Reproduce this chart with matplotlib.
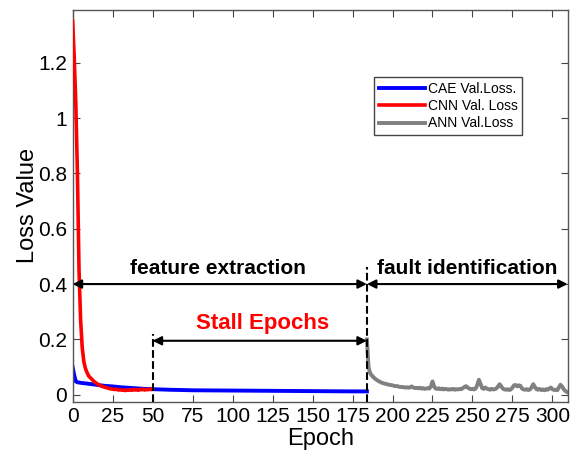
import matplotlib
matplotlib.use("Agg")
import matplotlib.pyplot as plt

plt.rcParams['font.family'] = ['Liberation Sans', 'DejaVu Sans']

# ---- data ----
cae_epochs = [0, 1, 2, 3, 5, 8, 12, 16, 20, 25, 30, 35, 40, 45, 50, 60, 75, 100, 125, 150, 175, 184]
cae_loss = [0.10, 0.07, 0.048, 0.045, 0.043, 0.041, 0.038, 0.035, 0.032, 0.030, 0.027, 0.025,
            0.023, 0.021, 0.020, 0.018, 0.016, 0.015, 0.014, 0.013, 0.012, 0.012]

cnn_epochs = list(range(0, 51))
cnn_loss = [1.35, 1.22, 1.05, 0.80, 0.45, 0.27, 0.17, 0.12, 0.095, 0.08,
            0.068, 0.062, 0.056, 0.050, 0.045, 0.041, 0.037, 0.034, 0.031, 0.029,
            0.027, 0.026, 0.024, 0.022, 0.021, 0.020, 0.019, 0.020, 0.018, 0.017,
            0.018, 0.016, 0.017, 0.015, 0.017, 0.016, 0.018, 0.016, 0.019, 0.017,
            0.018, 0.016, 0.019, 0.018, 0.020, 0.017, 0.019, 0.018, 0.020, 0.019, 0.020]

ann_epochs = list(range(184, 310))
ann_loss = [0.20, 0.10, 0.078, 0.070, 0.064, 0.058, 0.054, 0.050, 0.047, 0.044,
            0.042, 0.040, 0.039, 0.037, 0.036, 0.035, 0.034, 0.032, 0.031, 0.031,
            0.029, 0.028, 0.028, 0.027, 0.026, 0.027, 0.025, 0.027, 0.030, 0.026,
            0.024, 0.025, 0.023, 0.025, 0.022, 0.024, 0.021, 0.022, 0.024, 0.022,
            0.030, 0.048, 0.030, 0.022, 0.021, 0.023, 0.020, 0.022, 0.019, 0.021,
            0.020, 0.018, 0.020, 0.019, 0.021, 0.018, 0.020, 0.019, 0.021, 0.020,
            0.024, 0.028, 0.031, 0.026, 0.022, 0.020, 0.021, 0.019, 0.022, 0.035,
            0.054, 0.040, 0.024, 0.021, 0.026, 0.022, 0.020, 0.018, 0.021, 0.019,
            0.020, 0.023, 0.030, 0.038, 0.030, 0.022, 0.019, 0.018, 0.020, 0.017,
            0.019, 0.026, 0.034, 0.035, 0.030, 0.034, 0.032, 0.022, 0.019, 0.018,
            0.020, 0.017, 0.019, 0.027, 0.038, 0.028, 0.020, 0.018, 0.021, 0.017,
            0.019, 0.016, 0.020, 0.018, 0.022, 0.026, 0.020, 0.017, 0.018, 0.016,
            0.026, 0.036, 0.030, 0.020, 0.014, 0.010]

x_ticks = [0, 25, 50, 75, 100, 125, 150, 175, 200, 225, 250, 275, 300]
y_ticks = [0, 0.2, 0.4, 0.6, 0.8, 1.0, 1.2]
y_tick_labels = ['0', '0.2', '0.4', '0.6', '0.8', '1', '1.2']

stall_start = 50
phase_split = 184

# ---- figure ----
fig = plt.figure(figsize=(5.81, 4.59), dpi=100)
ax = fig.add_axes([0.125, 0.125, 0.852, 0.854])

ax.plot(cnn_epochs, cnn_loss, color='#ff0000', lw=2.6, label='CNN Val. Loss', zorder=3)
ax.plot(cae_epochs, cae_loss, color='#0000ff', lw=2.8, label='CAE Val.Loss.', zorder=2)
ax.plot(ann_epochs, ann_loss, color='#808080', lw=2.8, label='ANN Val.Loss', zorder=2)

ax.set_xlim(0, 309.5)
ax.set_ylim(-0.025, 1.392)

# dashed vertical lines
ax.plot([stall_start, stall_start], [-0.025, 0.22], color='black', ls='--', lw=1.5, zorder=4)
ax.plot([phase_split, phase_split], [-0.025, 0.46], color='black', ls='--', lw=1.5, zorder=4)

arrow_kw = dict(arrowstyle='<|-|>', color='black', lw=1.5, mutation_scale=13,
                shrinkA=0, shrinkB=0)
ax.annotate('', xy=(0, 0.4), xytext=(phase_split, 0.4), arrowprops=arrow_kw)
ax.annotate('', xy=(phase_split, 0.4), xytext=(309.5, 0.4), arrowprops=arrow_kw)
ax.annotate('', xy=(stall_start, 0.195), xytext=(phase_split, 0.195), arrowprops=arrow_kw)

ax.text(91, 0.422, 'feature extraction', fontsize=15, fontweight='bold', ha='center', va='bottom')
ax.text(247, 0.422, 'fault identification', fontsize=15, fontweight='bold', ha='center', va='bottom')
ax.text(118.5, 0.218, 'Stall Epochs', fontsize=16, fontweight='bold', color='#ff0000',
        ha='center', va='bottom')

ax.set_xticks(x_ticks)
ax.set_yticks(y_ticks)
ax.set_yticklabels(y_tick_labels)
ax.tick_params(direction='in', top=True, right=True, labelsize=15, length=5,
               color='#444444', pad=4)
for s in ax.spines.values():
    s.set_color('#555555')
    s.set_linewidth(1.0)

ax.set_xlabel('Epoch', fontsize=17, labelpad=1)
ax.set_ylabel('Loss Value', fontsize=17, labelpad=-1)

handles, labels = ax.get_legend_handles_labels()
order = [1, 0, 2]
leg = ax.legend([handles[i] for i in order], [labels[i] for i in order],
                loc='upper left', bbox_to_anchor=(0.609, 0.829), fontsize=10,
                handlelength=3.3, handletextpad=0.2, labelspacing=0.25,
                borderpad=0.35, borderaxespad=0, fancybox=False, framealpha=1,
                edgecolor='#444444')
leg.get_frame().set_linewidth(1.0)

fig.savefig('out.png', dpi=100)
